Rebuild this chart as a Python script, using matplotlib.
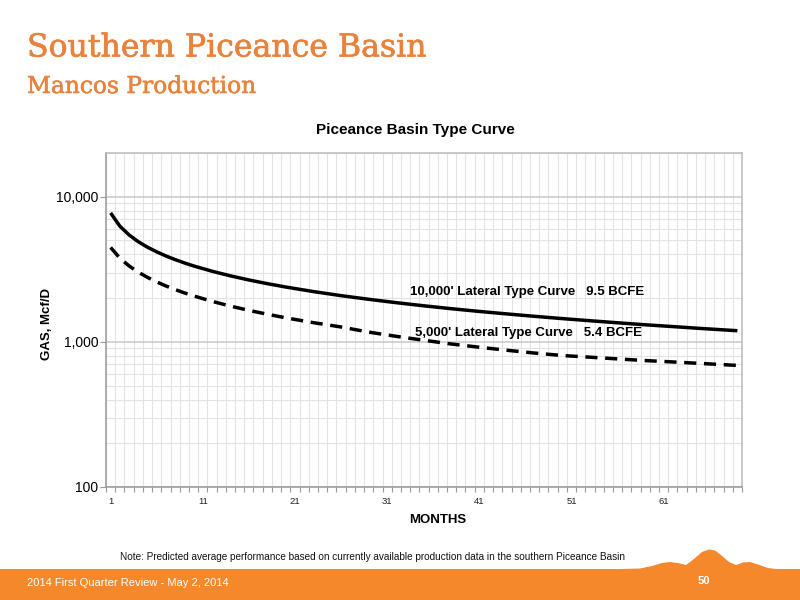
import matplotlib
matplotlib.use("Agg")
import matplotlib.pyplot as plt
import matplotlib.patheffects as pe
from matplotlib.ticker import FixedLocator, NullFormatter, FixedFormatter
from matplotlib.patches import Polygon, Rectangle

# ---- data ----
months = [1, 2, 3, 4, 5, 6, 7, 8, 9, 10, 12, 14, 16, 18, 20, 23, 26, 29, 32,
          35, 38, 41, 44, 47, 50, 53, 56, 59, 62, 65, 69]
lateral_10000 = [7730, 6270, 5455, 4898, 4487, 4169, 3905, 3686, 3499, 3335,
                 3066, 2849, 2669, 2517, 2386, 2220, 2081, 1964, 1861, 1771,
                 1691, 1620, 1557, 1499, 1446, 1398, 1353, 1311, 1274, 1237, 1193]
lateral_5000 = [4470, 3773, 3335, 3021, 2780, 2587, 2427, 2292, 2175, 2073,
                1902, 1763, 1648, 1550, 1464, 1356, 1266, 1167, 1091, 1025,
                966, 918, 875, 837, 805, 784, 763, 743, 727, 710, 688]
x_tick_values = [1, 11, 21, 31, 41, 51, 61]
y_tick_values = [100, 1000, 10000]
y_tick_labels = ["100", "1,000", "10,000"]
label_10000 = "10,000' Lateral Type Curve   9.5 BCFE"
label_5000 = "5,000' Lateral Type Curve   5.4 BCFE"

ORANGE = "#F5882A"
TITLE_ORANGE = "#E8823C"
SANS = ["Liberation Sans", "DejaVu Sans"]

fig = plt.figure(figsize=(8, 6), dpi=100)

# background / decoration layer in pixel coordinates
bg = fig.add_axes([0, 0, 1, 1], zorder=-5)
bg.set_xlim(0, 800)
bg.set_ylim(600, 0)
bg.axis("off")
bg.add_patch(Rectangle((0, 569), 800, 31, color=ORANGE, lw=0))
mountain = [(600, 569.5), (640, 568.5), (652, 566), (662, 563), (670, 562),
            (678, 563), (686, 565), (694, 559), (702, 552), (709, 549.5),
            (715, 550.5), (721, 555), (729, 562), (736, 565), (743, 562.5),
            (750, 562), (758, 564.5), (768, 568), (780, 569.5), (800, 569.5),
            (800, 575), (600, 575)]
bg.add_patch(Polygon(mountain, closed=True, color=ORANGE, lw=0))

fig.text(27 / 800, 1 - 48 / 600, "Southern Piceance Basin", color=TITLE_ORANGE,
         fontsize=22.7, family=["DejaVu Serif"], va="center", ha="left",
         path_effects=[pe.withStroke(linewidth=0.5, foreground=TITLE_ORANGE)])
fig.text(27 / 800, 1 - 87 / 600, "Mancos Production", color=TITLE_ORANGE,
         fontsize=16.8, family=["DejaVu Serif"], va="center", ha="left",
         path_effects=[pe.withStroke(linewidth=0.4, foreground=TITLE_ORANGE)])

fig.text(372 / 800, 1 - 557 / 600,
         "Note: Predicted average performance based on currently available production data in the southern Piceance Basin",
         fontsize=7.2, family=SANS, ha="center", va="center", color="#111111")
fig.text(27 / 800, 1 - 583 / 600, "2014 First Quarter Review - May 2, 2014",
         fontsize=8, family=SANS, ha="left", va="center", color="white")
fig.text(704 / 800, 1 - 581 / 600, "50", fontsize=8, family=SANS,
         fontweight="bold", ha="center", va="center", color="white")

# ---- chart ----
ax = fig.add_axes([106 / 800, 113 / 600, 636 / 800, 334 / 600])
ax.set_yscale("log")
ax.set_xlim(0.5, 69.5)
ax.set_ylim(100, 20000)

ax.plot(months, lateral_10000, color="black", lw=2.5, solid_capstyle="butt", zorder=3)
ax.plot(months, lateral_5000, color="black", lw=2.5, dashes=(3.5, 2.2), zorder=3)

ax.xaxis.set_major_locator(FixedLocator(x_tick_values))
ax.xaxis.set_minor_locator(FixedLocator([m + 0.5 for m in range(0, 70)]))
ax.yaxis.set_major_locator(FixedLocator(y_tick_values))
ax.yaxis.set_major_formatter(FixedFormatter(y_tick_labels))
ax.yaxis.set_minor_locator(FixedLocator([k * d for d in (100, 1000, 10000) for k in range(2, 10)]))
ax.yaxis.set_minor_formatter(NullFormatter())

ax.grid(which="minor", axis="x", color="#e3e3e3", lw=0.8)
ax.grid(which="minor", axis="y", color="#e3e3e3", lw=0.8)
ax.grid(which="major", axis="y", color="#c8c8c8", lw=1.1)
ax.set_axisbelow(True)

ax.tick_params(axis="x", which="major", length=0, labelsize=6.8, pad=7, colors="#222222")
ax.tick_params(axis="x", which="minor", length=3.5, color="#999999", width=0.8)
ax.tick_params(axis="y", which="major", length=4, color="#999999", labelsize=10, pad=1.5)
ax.tick_params(axis="y", which="minor", length=0)
for lab in ax.get_xticklabels() + ax.get_yticklabels():
    lab.set_family(SANS)

for side in ("left", "bottom"):
    ax.spines[side].set_color("#999999")
    ax.spines[side].set_linewidth(1.1)
for side in ("top", "right"):
    ax.spines[side].set_color("#bbbbbb")
    ax.spines[side].set_linewidth(1.1)

ax.set_title("Piceance Basin Type Curve", fontsize=11, fontweight="bold",
             family=SANS, pad=14, x=0.486)
ax.set_xlabel("MONTHS", fontsize=9.5, fontweight="bold", family=SANS, labelpad=10)
ax.xaxis.set_label_coords(0.522, -0.08)
fig.text(47 / 800, 1 - 324 / 600, "GAS, Mcf/D", rotation=90, fontsize=9.5,
         fontweight="bold", family=SANS, ha="center", va="center")

ax.text(0.478, 0.584, label_10000, transform=ax.transAxes, fontsize=9.5,
        fontweight="bold", family=SANS, ha="left", va="center", zorder=4)
ax.text(0.486, 0.461, label_5000, transform=ax.transAxes, fontsize=9.5,
        fontweight="bold", family=SANS, ha="left", va="center", zorder=4)

fig.savefig("out.png", dpi=100)
